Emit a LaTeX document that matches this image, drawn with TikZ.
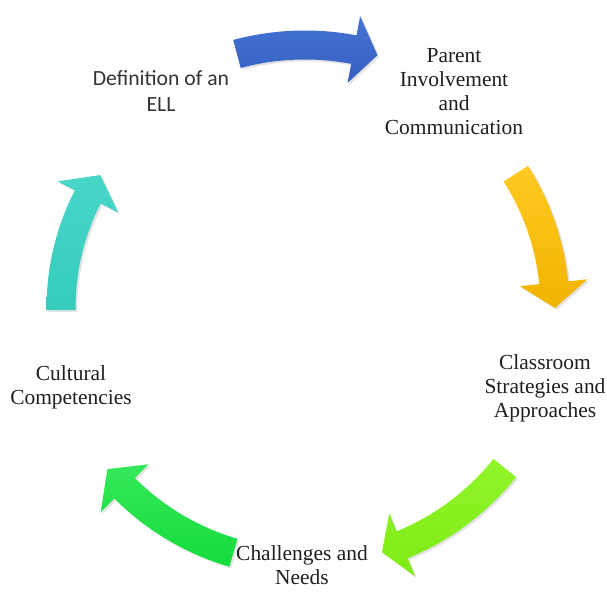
\documentclass[tikz,border=0pt]{standalone}
\usepackage{fontspec}
\setmainfont{Liberation Serif}
\newfontfamily\calibri{Carlito}
\usetikzlibrary{shadows}

\definecolor{bluetop}{HTML}{4573D2}
\definecolor{bluebot}{HTML}{3561C2}
\definecolor{yellowtop}{HTML}{FFCA22}
\definecolor{yellowbot}{HTML}{F2B300}
\definecolor{limetop}{HTML}{92F52A}
\definecolor{limebot}{HTML}{7EEB14}
\definecolor{greentop}{HTML}{36E85A}
\definecolor{greenbot}{HTML}{14DC3C}
\definecolor{tealtop}{HTML}{48D6C8}
\definecolor{tealbot}{HTML}{36CCBC}

\tikzset{
	cyclelabel/.style={align=center, inner sep=0pt, text=black!88, font=\fontsize{18.3}{20.5}\selectfont},
	arrshadow/.style={drop shadow={opacity=0.22, shadow xshift=1.6pt, shadow yshift=-1.6pt}}
}

% #1 top colour, #2 bottom colour, #3 tail angle, #4 head angle, #5 tip angle, #6 radius
\newcommand{\cyclearrow}[6]{%
	\path[arrshadow, top color=#1, bottom color=#2, shift={(305,284)}]
		(#3:{#6+14.5}) arc[start angle=#3, end angle=#4, radius={#6+14.5}]
		-- (#4:{#6+34}) -- (#5:#6) -- (#4:{#6-34}) -- (#4:{#6-14.5})
		arc[start angle=#4, end angle=#3, radius={#6-14.5}] -- cycle;}

\begin{document}
\begin{tikzpicture}[x=0.03cm, y=0.03cm]
	\path[use as bounding box, fill=white] (0,0) rectangle (607,592);

	% arrows round the cycle
	\cyclearrow{bluetop}{bluebot}{105}{79.3}{74}{263}
	\cyclearrow{yellowtop}{yellowbot}{32.5}{5.8}{0}{250}
	\cyclearrow{limetop}{limebot}{-38.7}{-67.7}{-72.5}{256}
	\cyclearrow{greentop}{greenbot}{-106.3}{-135}{-140.8}{255}
	\cyclearrow{tealtop}{tealbot}{180.5}{152.9}{147}{244}

	% topics
	\node[cyclelabel, text=black!80, font=\calibri\fontsize{18.5}{22.5}\selectfont] (def) at (161,501) {Definition of an\\ELL};
	\node[cyclelabel] (parent) at (454,500) {Parent\\Involvement\\and\\Communication};
	\node[cyclelabel] (classroom) at (545,204) {Classroom\\Strategies and\\Approaches};
	\node[cyclelabel] (challenges) at (302,27) {Challenges and\\Needs};
	\node[cyclelabel] (cultural) at (71,205) {Cultural\\Competencies};
\end{tikzpicture}
\end{document}
